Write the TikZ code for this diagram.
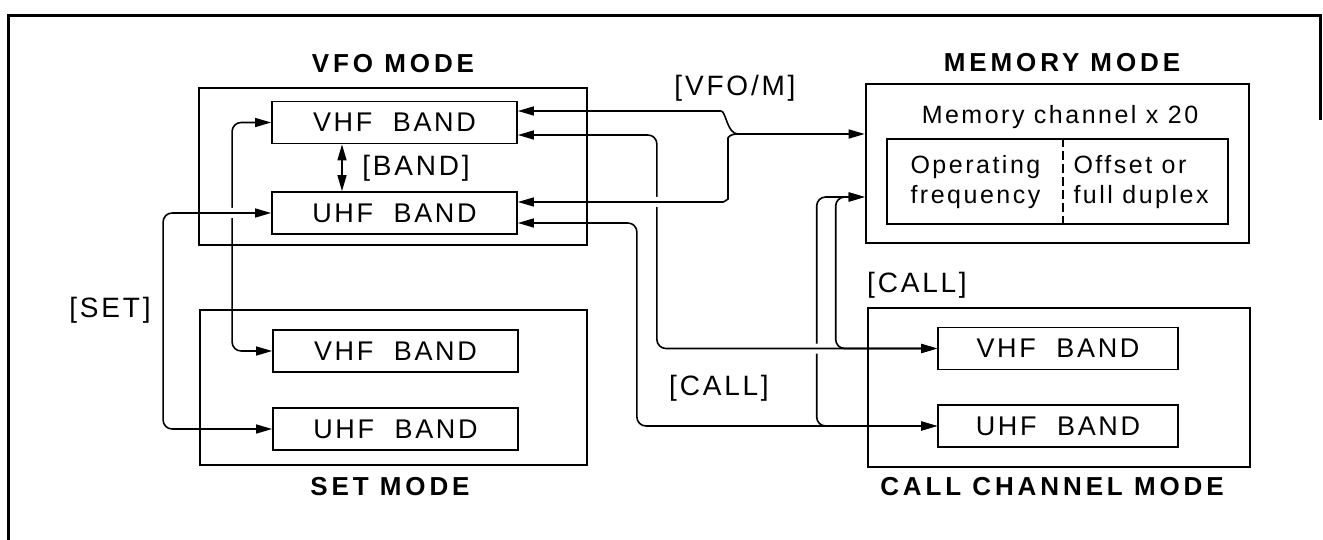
\documentclass[tikz,border=0pt]{standalone}
\usepackage{fontspec}
\setmainfont{Liberation Sans}
\newfontfamily\bandfont{Liberation Sans}[LetterSpace=10]
\newfontfamily\titlefont{Liberation Sans}[LetterSpace=15]
\usetikzlibrary{calc,arrows.meta,positioning}
\pgfdeclarelayer{bg}
\pgfsetlayers{bg,main}
\tikzset{
modeBox/.style={
	draw, line width=2.6pt, inner sep=0pt
}
, bandBox/.style={
	draw, line width=1.8pt, inner sep=0pt,
	minimum width=245pt, minimum height=42pt,
	font=\bandfont\fontsize{27}{30}\selectfont
}
, modeTitle/.style={font=\titlefont\bfseries\fontsize{26}{30}\selectfont}
, keyLabel/.style={font=\bandfont\fontsize{28}{30}\selectfont}
, memLabel/.style={font=\bandfont\fontsize{25}{30}\selectfont}
% links
, link/.style={line width=1.6pt, rounded corners=9pt, >={Triangle[length=16pt,width=9pt]}}
, bridge/.style={preaction={draw=white, line width=10pt, -}}
}
\begin{document}
\begin{tikzpicture}[x=1pt,y=-1pt]
	\useasboundingbox (0,0) rectangle (1323,540);
	% frame
	\draw[line width=3pt] (8,540) -- (8,16) -- (1320,16) -- (1320,120);
	% mode boxes
	\node[modeBox, minimum width=388pt, minimum height=157pt] (vfo) at (393,166.5) {};
	\node[modeBox, minimum width=387pt, minimum height=155pt] (set) at (393.5,387.5) {};
	\node[modeBox, minimum width=383pt, minimum height=159pt] (mem) at (1057.5,163.5) {};
	\node[modeBox, minimum width=382pt, minimum height=159pt] (call) at (1059,387.5) {};
	\node[modeTitle] (vfoTitle) at (393,64) {VFO MODE};
	\node[modeTitle] (setTitle) at (390,487) {SET MODE};
	\node[modeTitle] (memTitle) at (1062,63) {MEMORY MODE};
	\node[modeTitle] (callTitle) at (1052,487) {CALL CHANNEL MODE};
	% bands
	\node[bandBox] (vfoVhf) at (394.5,122.5) {VHF~~BAND};
	\node[bandBox] (vfoUhf) at (394.5,213) {UHF~~BAND};
	\node[bandBox] (setVhf) at (395.5,351) {VHF~~BAND};
	\node[bandBox] (setUhf) at (395.5,429) {UHF~~BAND};
	\node[bandBox, minimum width=240pt] (callVhf) at (1058,348.5) {VHF~~BAND};
	\node[bandBox, minimum width=240pt] (callUhf) at (1058,426) {UHF~~BAND};
	% memory contents
	\node[memLabel] (memText) at (1060,117) {Memory channel x 20};
	\node[draw, line width=1.8pt, minimum width=341pt, minimum height=85pt] (memIn) at (1057.5,181.5) {};
	\draw[line width=1.4pt, dash pattern=on 9pt off 4pt] ([xshift=5.5pt]memIn.north) -- ([xshift=5.5pt]memIn.south);
	\node[memLabel, align=left, anchor=west] (opFreq) at (907,182) {Operating\\frequency};
	\node[memLabel, align=left, anchor=west] (offDup) at (1070,182) {Offset or\\full duplex};
	% key labels
	\node[keyLabel] (keyVfoM) at (735,88) {[VFO/M]};
	\node[keyLabel] (keyBand) at (416,168) {[BAND]};
	\node[keyLabel] (keySet) at (110,310) {[SET]};
	\node[keyLabel] (keyCallA) at (917,285) {[CALL]};
	\node[keyLabel] (keyCallB) at (719,388) {[CALL]};
	\coordinate (bTip) at (738,134);
	% links
	\begin{pgfonlayer}{bg}
	\draw[link,<->] (vfoVhf.west) -- ++(-39,0) |- (setVhf.west);
	\draw[link,<->] ([yshift=-33.5pt]mem.west) -- ++(-48,0) |- (callUhf.west);
	\draw[link,<->] ([yshift=-10pt]vfoUhf.east) -- ++(119,0) |- (callUhf.west);
	\draw[link,bridge,<->] (vfoUhf.west) -- ++(-108,0) |- (setUhf.west);
	\draw[link,bridge,<->] ([yshift=-12.5pt]vfoVhf.east) -- ++(139,0) |- (callVhf.west);
	\draw[link,<->] ([yshift=-33.5pt]mem.west) -- ++(-29,0) |- (callVhf.west);
	\draw[link,bridge,->] (bTip) .. controls (729,134) and (728,138) .. (728,147)
		-- (728,190) .. controls (728,199) and (724,202) .. (714,202) -- ([yshift=11pt]vfoUhf.east);
	\draw[link,<-] ([yshift=11.5pt]vfoVhf.east) -- (712,111) .. controls (726,111) and (727,134) .. (bTip);
	\draw[link,->] (bTip) -- (bTip -| mem.west);
	\draw[link,<->] ([xshift=-52.5pt]vfoVhf.south) -- ([xshift=-52.5pt]vfoUhf.north);
	\end{pgfonlayer}
\end{tikzpicture}
\end{document}
